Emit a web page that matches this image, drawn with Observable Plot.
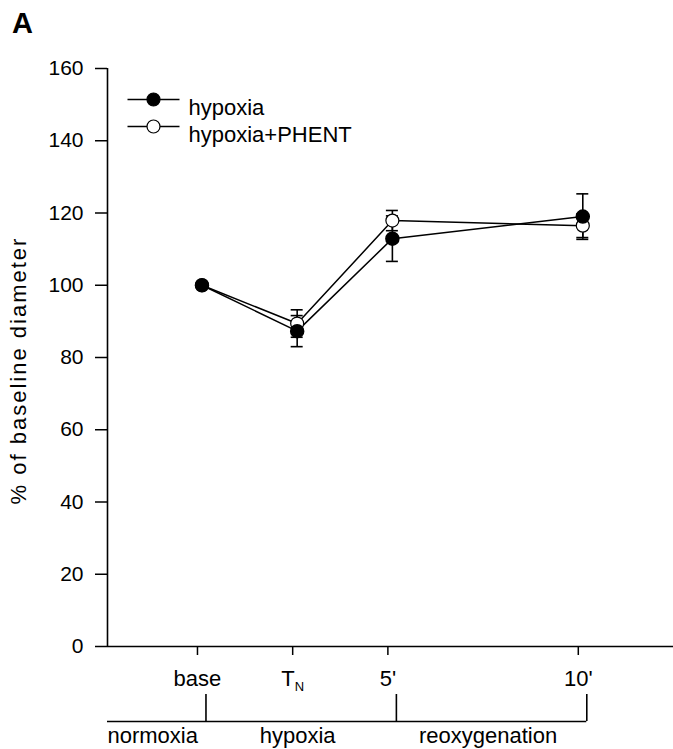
<!DOCTYPE html>
<html><head><meta charset="utf-8">
<script src="https://cdn.jsdelivr.net/npm/d3@7"></script>
<script src="https://cdn.jsdelivr.net/npm/@observablehq/plot@0.6"></script>
<style>
body{margin:0;background:#fff;font-family:"Liberation Sans",Arial,sans-serif;}
#wrap{position:relative;width:673px;height:749px;overflow:hidden;background:#fff;}
#panel{position:absolute;left:12px;top:9px;font-weight:bold;font-size:29px;line-height:1;}
#chart{position:absolute;left:0;top:0;}
#phase{position:absolute;left:0;top:690px;}
#chart svg, #phase svg{display:block;}
</style></head><body>
<div id="wrap"><div id="chart"></div><div id="phase"></div><div id="panel">A</div></div>
<script>
// ---- data ----
const timeKeys = [0, 1, 2, 4];
const timeLabels = ["base", "TN", "5'", "10'"];
const seriesNames = ["hypoxia", "hypoxia+PHENT"];
const hypoxiaValues = [100, 87.3, 112.9, 119.0];
const hypoxiaErr = [0, 4.3, 6.3, 6.3];
const phentValues = [100, 89.4, 117.9, 116.5];
const phentErr = [0, 3.8, 2.8, 3.3];
const yTicks = [0, 20, 40, 60, 80, 100, 120, 140, 160];
const phaseLabels = ["normoxia", "hypoxia", "reoxygenation"];
const phaseEnds = [0, 2, 4];
const yTitle = "% of baseline diameter";

const xDomain = [-0.945, 5];
const font = "Liberation Sans, Arial, sans-serif";

const rowsOf = (name, vals, errs) => timeKeys.map((x, i) => ({series: name, x, y: vals[i], e: errs[i]}));
const hypRows = rowsOf(seriesNames[0], hypoxiaValues, hypoxiaErr);
const phRows = rowsOf(seriesNames[1], phentValues, phentErr);
const allRows = [...phRows, ...hypRows];
const errRows = allRows.filter(d => d.e > 0);
const capRows = errRows.flatMap(d => [{...d, c: d.y - d.e}, {...d, c: d.y + d.e}]);

const off = 4.5;

// legend marks
const lineSym = {draw(ctx) { ctx.moveTo(-26, 0); ctx.lineTo(26, 0); }};
const legendMarks = seriesNames.flatMap((name, i) => [
  Plot.dot([name], {frameAnchor: "top-left", dx: 46, dy: 31 + 27 * i, symbol: lineSym, stroke: "black", strokeWidth: 1.3}),
  Plot.dot([name], {frameAnchor: "top-left", dx: 46, dy: 31 + 27 * i, r: 6.5, fill: i === 0 ? "black" : "white", stroke: "black", strokeWidth: 1.2}),
  Plot.text([name], {frameAnchor: "top-left", dx: 81, dy: 31 + 27 * i, text: d => d, textAnchor: "start", fontSize: 22, fill: "black"})
]);

const chart = Plot.plot({
  width: 673, height: 700,
  marginLeft: 107, marginRight: 0, marginTop: 68, marginBottom: 54,
  style: {fontFamily: font, fontSize: "22px", color: "black", background: "transparent"},
  x: {domain: xDomain},
  y: {domain: [0, 160]},
  marks: [
    Plot.ruleY([0], {stroke: "black", strokeWidth: 1.6}),
    Plot.ruleX([xDomain[0]], {stroke: "black", strokeWidth: 1.6}),
    Plot.axisY({ticks: yTicks, tickSize: 12, tickPadding: 12, label: null, fontSize: 21, strokeWidth: 1.5}),
    Plot.axisX({ticks: timeKeys, tickFormat: d => timeLabels[timeKeys.indexOf(d)], tickSize: 9, tickPadding: 15, label: null, fontSize: 22, strokeWidth: 1.5}),
    Plot.text([yTitle], {frameAnchor: "left", textAnchor: "middle", rotate: -90, dx: -89, dy: 13, text: d => d, fontSize: 22, fill: "black"}),
    Plot.line(allRows, {x: "x", y: "y", z: "series", stroke: "black", strokeWidth: 1.5, dx: off}),
    Plot.ruleX(errRows, {x: "x", y1: d => d.y - d.e, y2: d => d.y + d.e, stroke: "black", strokeWidth: 1.6, dx: off}),
    Plot.ruleY(capRows, {x1: "x", x2: "x", y: "c", insetLeft: -6, insetRight: -6, stroke: "black", strokeWidth: 1.6, dx: off}),
    Plot.dot(phRows, {x: "x", y: "y", r: 6.5, fill: "white", stroke: "black", strokeWidth: 1.2, dx: off}),
    Plot.dot(hypRows, {x: "x", y: "y", r: 6.5, fill: "black", stroke: "black", dx: off}),
    ...legendMarks
  ]
});
document.getElementById("chart").appendChild(chart);

// letter spacing for the y title, subscript for T_N tick label
d3.select(chart).selectAll("text").each(function() {
  if (this.textContent === yTitle) this.setAttribute("letter-spacing", "2");
  if (this.textContent === "TN") {
    const t = d3.select(this);
    t.text("");
    t.append("tspan").text("T");
    t.append("tspan").attr("font-size", 13).attr("dy", "0.35em").text("N");
  }
});

// phase bar
const phaseRows = phaseLabels.map((label, i) => ({label, start: i === 0 ? xDomain[0] : phaseEnds[i - 1], end: phaseEnds[i]}));
const phase = Plot.plot({
  width: 673, height: 59,
  marginLeft: 107, marginRight: 0, marginTop: 0, marginBottom: 0,
  style: {fontFamily: font, fontSize: "22px", color: "black", background: "transparent"},
  x: {domain: xDomain, axis: null},
  y: {domain: [0, 59], reverse: true, axis: null},
  marks: [
    Plot.ruleY([phaseRows], {x1: () => xDomain[0], x2: () => phaseEnds[phaseEnds.length - 1], y: () => 31, insetRight: -8.5, stroke: "black", strokeWidth: 1.6}),
    Plot.ruleX(phaseEnds, {x: d => d, y1: () => 4, y2: () => 31, dx: 8.5, stroke: "black", strokeWidth: 1.6}),
    Plot.text(phaseRows.slice(0, 1), {x: "start", y: () => 45, text: "label", textAnchor: "start", fontSize: 22, fill: "black"}),
    Plot.text(phaseRows.slice(1), {x: d => (d.start + d.end) / 2, y: () => 45, text: "label", dx: 5, fontSize: 22, fill: "black"})
  ]
});
document.getElementById("phase").appendChild(phase);
</script></body></html>
